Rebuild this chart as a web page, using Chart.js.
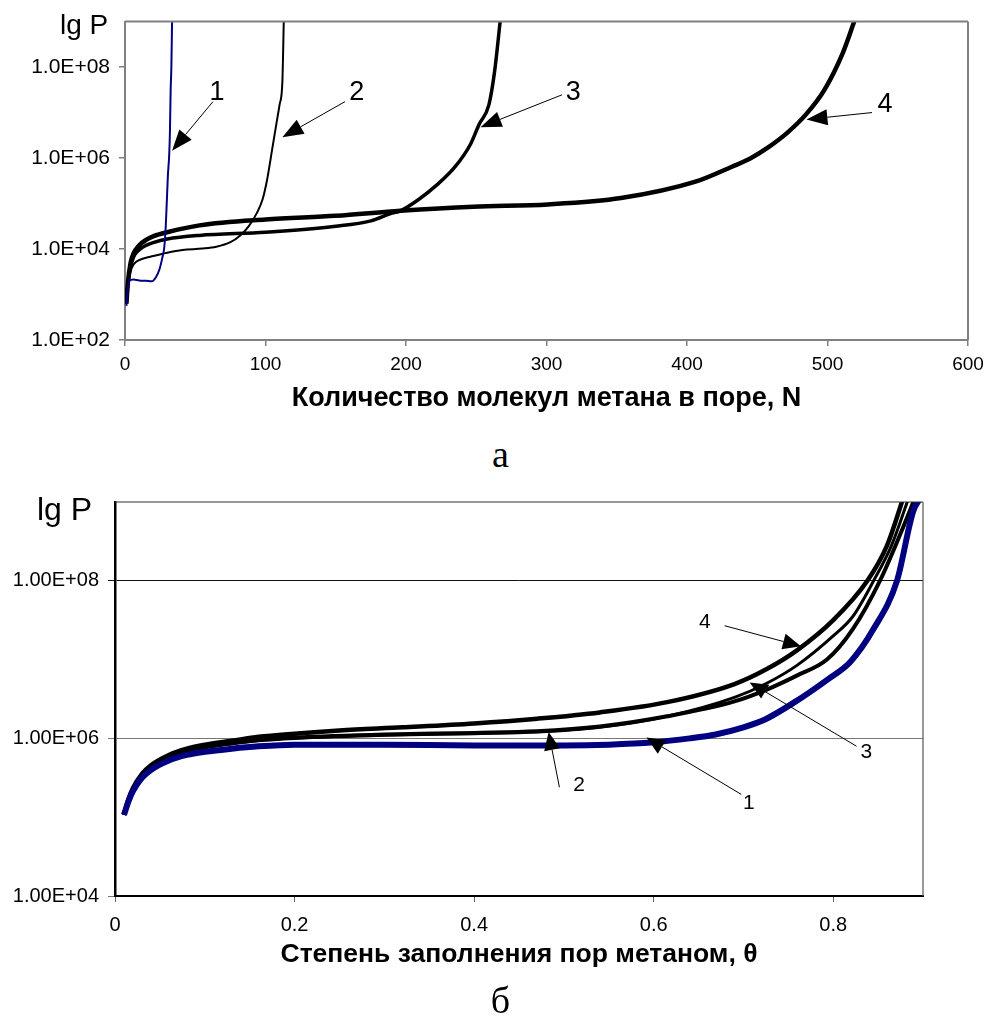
<!DOCTYPE html>
<html lang="ru">
<head>
<meta charset="utf-8">
<script src="https://cdn.jsdelivr.net/npm/chart.js@4.4.1/dist/chart.umd.min.js"></script>
<style>
  body { margin: 0; background: #fff; width: 991px; height: 1027px; position: relative; overflow: hidden; }
  .box { position: absolute; left: 0; width: 991px; }
  #boxA { top: 0; height: 420px; }
  #boxB { top: 480px; height: 500px; }
  .panel { position: absolute; left: 0; width: 1001px; text-align: center;
           font-family: 'Liberation Serif', 'Times New Roman', serif; font-size: 38px; line-height: 38px; }
</style>
</head>
<body>
<div class="box" id="boxA"><canvas id="chartA"></canvas></div>
<div class="panel" style="top:435px">а</div>
<div class="box" id="boxB"><canvas id="chartB"></canvas></div>
<div class="panel" style="top:981px">б</div>
<script>
/*************  dados: рис. а (P от N)  ****************/
const aN1   = [1, 2, 3, 6, 10, 15, 19, 22, 24.5, 26.5, 28, 29, 29.7, 30.5, 31.5, 32, 32.5, 33, 33.5]
const aLgP1 = [2.75, 3.1, 3.3, 3.33, 3.31, 3.3, 3.29, 3.38, 3.55, 3.8, 4.05, 4.5, 5.0, 5.6, 6.1, 6.6, 7.5, 8.0, 9.0]

const aN2   = [1, 3, 5, 8, 12, 18, 30, 41, 55, 65, 75, 82, 88, 94, 98, 101, 105, 108, 110, 112, 113]
const aLgP2 = [2.95, 3.4, 3.6, 3.72, 3.78, 3.83, 3.92, 3.98, 4.01, 4.05, 4.15, 4.3, 4.5, 4.8, 5.1, 5.5, 6.24, 6.8, 7.17, 7.67, 9.0]

const aN3   = [1, 2, 4, 6, 10, 15, 20, 30, 53, 100, 150, 175, 189, 196, 209, 222, 235, 246, 252, 259, 263, 267]
const aLgP3 = [2.8, 3.2, 3.6, 3.82, 3.98, 4.08, 4.14, 4.22, 4.3, 4.37, 4.5, 4.62, 4.78, 4.84, 5.09, 5.41, 5.81, 6.31, 6.74, 7.17, 7.89, 9.0]

const aN4   = [1, 2, 4, 6, 10, 15, 20, 30, 53, 100, 150, 196, 248, 301, 353, 406, 432, 445, 458, 471.5, 484.7, 497.8, 511, 519]
const aLgP4 = [2.8, 3.25, 3.7, 3.9, 4.08, 4.2, 4.28, 4.37, 4.52, 4.65, 4.73, 4.84, 4.93, 4.98, 5.12, 5.48, 5.81, 5.99, 6.24, 6.56, 6.96, 7.5, 8.32, 9.0]

const aXTicks = [0, 100, 200, 300, 400, 500, 600]
const aYTicks = [1e2, 1e4, 1e6, 1e8]

/*************  dados: рис. б (P от θ)  ****************/
const bTh1   = [0.01, 0.015, 0.02, 0.03, 0.04, 0.06, 0.08, 0.1, 0.13, 0.16, 0.2, 0.3, 0.4, 0.5, 0.55, 0.6, 0.64, 0.669, 0.7, 0.724, 0.757, 0.794, 0.819, 0.845, 0.871, 0.889, 0.897]
const bLgP1  = [5.03, 5.2, 5.33, 5.5, 5.6, 5.72, 5.79, 5.83, 5.87, 5.9, 5.92, 5.92, 5.91, 5.91, 5.92, 5.95, 6.0, 6.05, 6.14, 6.24, 6.46, 6.75, 6.97, 7.39, 8.0, 8.88, 9.05]

const bTh2   = [0.01, 0.015, 0.02, 0.03, 0.04, 0.06, 0.08, 0.1, 0.13, 0.16, 0.2, 0.3, 0.4, 0.47, 0.54, 0.615, 0.69, 0.726, 0.76, 0.8, 0.822, 0.845, 0.865, 0.884]
const bLgP2  = [5.03, 5.22, 5.35, 5.52, 5.63, 5.75, 5.83, 5.88, 5.93, 5.97, 6.0, 6.04, 6.06, 6.08, 6.14, 6.28, 6.52, 6.7, 6.93, 7.3, 7.55, 8.0, 8.45, 9.05]

const bTh3   = [0.01, 0.015, 0.02, 0.03, 0.04, 0.06, 0.08, 0.1, 0.13, 0.16, 0.2, 0.3, 0.4, 0.47, 0.54, 0.615, 0.69, 0.726, 0.76, 0.793, 0.822, 0.852, 0.875, 0.891]
const bLgP3  = [5.03, 5.22, 5.36, 5.53, 5.64, 5.76, 5.84, 5.89, 5.94, 5.98, 6.01, 6.05, 6.07, 6.09, 6.15, 6.28, 6.47, 6.62, 6.8, 7.0, 7.39, 8.0, 8.6, 9.05]

const bTh4   = [0.01, 0.015, 0.02, 0.03, 0.04, 0.06, 0.08, 0.1, 0.13, 0.16, 0.2, 0.25, 0.32, 0.4, 0.47, 0.54, 0.615, 0.69, 0.726, 0.76, 0.8, 0.838, 0.86, 0.878]
const bLgP4  = [5.03, 5.23, 5.37, 5.55, 5.66, 5.79, 5.87, 5.92, 5.97, 6.02, 6.06, 6.1, 6.14, 6.19, 6.25, 6.33, 6.46, 6.69, 6.88, 7.12, 7.5, 8.0, 8.45, 9.05]

const bXTicks = [0, 0.2, 0.4, 0.6, 0.8]
const bYTicks = [1e4, 1e6, 1e8]

// подписи кривых: текст, позиция текста, начало и острие стрелки (x, lg P)
const aArrows = [
  {text: '1', label: [65.5, 7.45], from: [62.6, 7.24], to: [33.5, 6.16]},
  {text: '2', label: [165, 7.45],  from: [156.6, 7.24], to: [112, 6.46]},
  {text: '3', label: [319, 7.45],  from: [311, 7.39],  to: [253, 6.68]},
  {text: '4', label: [541, 7.17],  from: [531.7, 7.0], to: [485, 6.85]}
]
const bArrows = [
  {text: '4', label: [0.657, 7.48], from: [0.679, 7.43], to: [0.764, 7.17]},
  {text: '3', label: [0.837, 5.82], from: [0.826, 5.9],  to: [0.707, 6.71]},
  {text: '2', label: [0.517, 5.41], from: [0.495, 5.38], to: [0.483, 6.08]},
  {text: '1', label: [0.706, 5.18], from: [0.6975, 5.29], to: [0.592, 6.01]}
]

/*************  funções auxiliares  ****************/
const FONT = "'Liberation Sans', Arial, sans-serif"
Chart.defaults.font.family = FONT
Chart.defaults.color = '#000'

function toPoints(xs, lgs){
    return xs.map((v, i) => ({x: v, y: Math.pow(10, lgs[i])}))
}

function expLabel(v, decimals){
    const e = Math.round(Math.log10(v))
    return (decimals === 1 ? '1.0' : '1.00') + 'E+' + String(e).padStart(2, '0')
}

function line(xs, lgs, color, width){
    return {data: toPoints(xs, lgs), borderColor: color, borderWidth: width,
            showLine: true, pointRadius: 0, cubicInterpolationMode: 'monotone'}
}

// moldura da área do gráfico (topo e direita)
function framePlugin(topColor, rightColor, width){
    return {
        id: 'frame',
        afterDraw(chart){
            const {ctx, chartArea: a} = chart
            ctx.save()
            ctx.lineWidth = width
            ctx.strokeStyle = topColor
            ctx.beginPath(); ctx.moveTo(a.left, a.top); ctx.lineTo(a.right, a.top); ctx.stroke()
            ctx.strokeStyle = rightColor
            ctx.beginPath(); ctx.moveTo(a.right, a.top); ctx.lineTo(a.right, a.bottom); ctx.stroke()
            ctx.restore()
        }
    }
}

// setas com números das curvas + texto "lg P"
function arrowPlugin(list, fontSize, head, lgp){
    return {
        id: 'arrows',
        afterDraw(chart){
            const {ctx, scales: {x, y}} = chart
            const px = p => [x.getPixelForValue(p[0]), y.getPixelForValue(Math.pow(10, p[1]))]
            ctx.save()
            ctx.fillStyle = '#000'
            ctx.strokeStyle = '#000'
            ctx.lineWidth = 1
            list.forEach(a => {
                const [x0, y0] = px(a.from)
                const [x1, y1] = px(a.to)
                const ang = Math.atan2(y1 - y0, x1 - x0)
                const bx = x1 - Math.cos(ang) * head.len, by = y1 - Math.sin(ang) * head.len
                ctx.beginPath(); ctx.moveTo(x0, y0); ctx.lineTo(bx, by); ctx.stroke()
                ctx.beginPath()
                ctx.moveTo(x1, y1)
                ctx.lineTo(bx + Math.sin(ang) * head.w, by - Math.cos(ang) * head.w)
                ctx.lineTo(bx - Math.sin(ang) * head.w, by + Math.cos(ang) * head.w)
                ctx.closePath(); ctx.fill()
                const [lx, ly] = px(a.label)
                ctx.font = fontSize + 'px ' + FONT
                ctx.textAlign = 'center'
                ctx.textBaseline = 'middle'
                ctx.fillText(a.text, lx, ly)
            })
            ctx.font = lgp.size + 'px ' + FONT
            ctx.textAlign = 'left'
            ctx.textBaseline = 'alphabetic'
            ctx.fillText('lg P', lgp.x, lgp.y)
            ctx.restore()
        }
    }
}

/*************  рис. а  ****************/
new Chart(document.getElementById('chartA'), {
    type: 'scatter',
    data: {datasets: [
        line(aN1, aLgP1, '#000080', 2),
        line(aN2, aLgP2, '#000', 2),
        line(aN3, aLgP3, '#000', 3.5),
        line(aN4, aLgP4, '#000', 4.5)
    ]},
    options: {
        responsive: true, maintainAspectRatio: false, animation: false,
        layout: {padding: {top: 18, right: 23, left: 0, bottom: 0}},
        plugins: {legend: {display: false}, tooltip: {enabled: false}},
        scales: {
            x: {
                type: 'linear', min: 0, max: 600,
                afterFit(s){ s.height = 80 },
                afterBuildTicks(s){ s.ticks = aXTicks.map(v => ({value: v})) },
                grid: {drawOnChartArea: false, tickLength: 6, color: '#808080', lineWidth: 1.5},
                border: {color: '#808080', width: 2},
                ticks: {font: {size: 19}, padding: 7, maxRotation: 0},
                title: {display: true, text: 'Количество молекул метана в поре, N',
                        font: {size: 27, weight: 'bold'}, padding: {top: 0, bottom: 5}}
            },
            y: {
                type: 'logarithmic', min: 1e2, max: 1e9,
                afterFit(s){ s.width = 125 },
                afterBuildTicks(s){ s.ticks = aYTicks.map(v => ({value: v})) },
                grid: {drawOnChartArea: false, tickLength: 6, color: '#808080', lineWidth: 1.5},
                border: {color: '#808080', width: 2},
                ticks: {font: {size: 21}, padding: 9, callback: v => expLabel(v, 1)}
            }
        }
    },
    plugins: [framePlugin('#808080', '#808080', 2),
              arrowPlugin(aArrows, 27, {len: 21, w: 8}, {size: 28, x: 60, y: 34})]
})

/*************  рис. б  ****************/
new Chart(document.getElementById('chartB'), {
    type: 'scatter',
    data: {datasets: [
        line(bTh1, bLgP1, '#000080', 6),
        line(bTh2, bLgP2, '#000', 3),
        line(bTh3, bLgP3, '#000', 4),
        line(bTh4, bLgP4, '#000', 4.5),
        line(bTh4, bLgP4, '#fff', 1.6)   // кривая 4 - двойная линия
    ]},
    options: {
        responsive: true, maintainAspectRatio: false, animation: false,
        layout: {padding: {top: 22, right: 68, left: 0, bottom: 0}},
        plugins: {legend: {display: false}, tooltip: {enabled: false}},
        scales: {
            x: {
                type: 'linear', min: 0, max: 0.9,
                afterFit(s){ s.height = 84 },
                afterBuildTicks(s){ s.ticks = bXTicks.map(v => ({value: v})) },
                grid: {drawOnChartArea: false, tickLength: 6, color: '#666', lineWidth: 1},
                border: {color: '#000', width: 2},
                ticks: {font: {size: 20}, padding: 11, maxRotation: 0, callback: v => String(v)},
                title: {display: true, text: 'Степень заполнения пор метаном, θ',
                        font: {size: 26.5, weight: 'bold'}, padding: {top: 0, bottom: 9}}
            },
            y: {
                type: 'logarithmic', min: 1e4, max: 1e9,
                afterFit(s){ s.width = 115 },
                afterBuildTicks(s){ s.ticks = bYTicks.map(v => ({value: v})) },
                grid: {tickLength: 7, lineWidth: 1,
                       color: c => c.tick && c.tick.value === 1e8 ? '#111' : '#777'},
                border: {color: '#000', width: 2.5},
                ticks: {font: {size: 20}, padding: 9, callback: v => expLabel(v, 2)}
            }
        }
    },
    plugins: [framePlugin('#333', '#555', 1.2),
              arrowPlugin(bArrows, 21, {len: 18, w: 8}, {size: 32, x: 37, y: 40})]
})
</script>
</body>
</html>
